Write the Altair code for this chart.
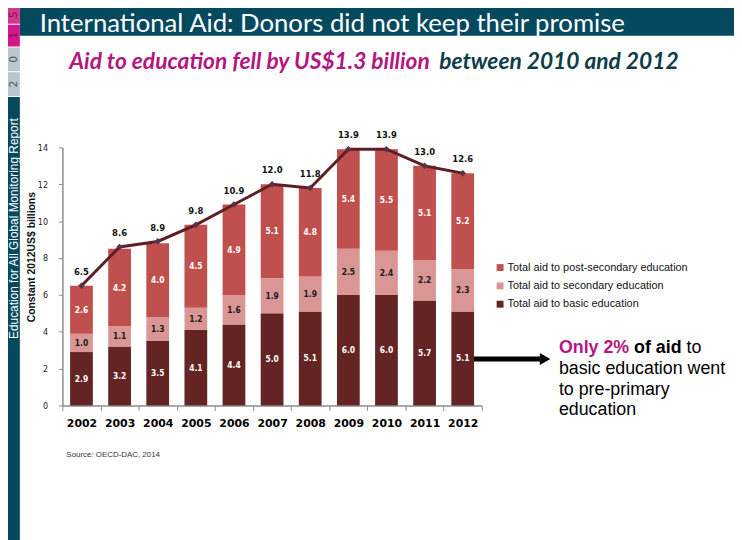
import altair as alt
import pandas as pd

# ---------------- data ----------------
years = ["2002", "2003", "2004", "2005", "2006", "2007", "2008", "2009", "2010", "2011", "2012"]
basic = [2.9, 3.2, 3.5, 4.1, 4.4, 5.0, 5.1, 6.0, 6.0, 5.7, 5.1]
secondary = [1.0, 1.1, 1.3, 1.2, 1.6, 1.9, 1.9, 2.5, 2.4, 2.2, 2.3]
post_secondary = [2.6, 4.2, 4.0, 4.5, 4.9, 5.1, 4.8, 5.4, 5.5, 5.1, 5.2]
totals = [6.5, 8.6, 8.9, 9.8, 10.9, 12.0, 11.8, 13.9, 13.9, 13.0, 12.6]

series_names = [
    "Total aid to post-secondary education",
    "Total aid to secondary education",
    "Total aid to basic education",
]
series_colors = ["#c0504d", "#d99694", "#632423"]
y_ticks = [0, 2, 4, 6, 8, 10, 12, 14]

rows = []
for i, yr in enumerate(years):
    for k, (name, vals) in enumerate(
        [(series_names[2], basic), (series_names[1], secondary), (series_names[0], post_secondary)]
    ):
        rows.append({"year": yr, "series": name, "value": vals[i], "order": k})
bars_df = pd.DataFrame(rows)
tot_df = pd.DataFrame({"year": years, "total": totals})

TEAL = "#05495f"
MAGENTA = "#b3177f"

x_axis = alt.Axis(
    title=None, labelAngle=0, tickBand="extent", tickSize=5, tickColor="#8c8c8c",
    domainColor="#8c8c8c", domainWidth=1.5, labelFont="DejaVu Sans", labelFontWeight="bold",
    labelFontSize=11, labelColor="#000", labelPadding=7,
)
y_axis = alt.Axis(
    values=y_ticks, grid=False, title=None, tickSize=4, tickColor="#8c8c8c",
    domainColor="#8c8c8c", domainWidth=1.5, labelFont="DejaVu Sans Condensed",
    labelFontSize=9, labelColor="#222", labelPadding=11,
)
x_scale = alt.Scale(paddingInner=0, paddingOuter=0)
y_scale = alt.Scale(domain=[0, 14], nice=False)


def X():
    return alt.X("year:N", sort=years, scale=x_scale, axis=x_axis)


bars = alt.Chart(bars_df).mark_bar(size=23).encode(
    x=X(),
    y=alt.Y("value:Q", stack="zero", scale=y_scale, axis=y_axis),
    color=alt.Color(
        "series:N",
        scale=alt.Scale(domain=series_names, range=series_colors),
        legend=alt.Legend(
            title=None, orient="none", legendX=437, legendY=116, symbolType="square",
            symbolSize=49, symbolStrokeWidth=0, labelFont="Liberation Sans", labelFontSize=11,
            labelColor="#111", rowPadding=6.5, labelOffset=2, labelLimit=0,
        ),
    ),
    order=alt.Order("order:Q", sort="ascending"),
)

bar_labels = (
    alt.Chart(bars_df)
    .transform_stack(stack="value", groupby=["year"], as_=["y0", "y1"],
                     sort=[alt.SortField("order", "ascending")])
    .transform_calculate(mid="(datum.y0 + datum.y1) / 2")
    .mark_text(font="DejaVu Sans Condensed", fontWeight="bold", fontSize=8.5, baseline="middle")
    .encode(
        x=X(),
        y=alt.Y("mid:Q", scale=y_scale, axis=y_axis),
        text=alt.Text("value:Q", format=".1f"),
        color=alt.condition(alt.datum.order == 1, alt.value("#1a1a1a"), alt.value("#ffffff")),
    )
)

line = alt.Chart(tot_df).mark_line(color="#5e1f24", strokeWidth=3).encode(
    x=X(), y=alt.Y("total:Q", scale=y_scale, axis=y_axis)
)
pts = alt.Chart(tot_df).mark_point(shape="diamond", filled=True, size=45, color="#5a3247", opacity=1).encode(
    x=X(), y=alt.Y("total:Q", scale=y_scale, axis=y_axis)
)
tot_labels = alt.Chart(tot_df).mark_text(
    dy=-14, font="DejaVu Sans Condensed", fontWeight="bold", fontSize=9.5, color="#111", baseline="middle"
).encode(
    x=X(), y=alt.Y("total:Q", scale=y_scale, axis=y_axis), text=alt.Text("total:Q", format=".1f")
)

one = pd.DataFrame({"k": [0]})


def rect(x1, x2, y1, y2, color):
    return alt.Chart(one).mark_rect(color=color).encode(
        x=alt.value(x1), x2=alt.value(x2), y=alt.value(y1), y2=alt.value(y2)
    )


def label(txt, x, y, **kw):
    return alt.Chart(one).mark_text(**kw).encode(x=alt.value(x), y=alt.value(y), text=alt.value(txt))


# decorations (pixel offsets relative to the plot area origin)
deco = [
    rect(-43, 680, -150, -113, TEAL),                      # title band
    rect(-63, -43, -51, 400, TEAL),                        # sidebar
    rect(-63, -43, -150, -125, "#d5378f"),
    rect(-63, -43, -124, -102, "#d4168a"),
    rect(-63, -43, -101, -77, "#b8c6ce"),
    rect(-63, -43, -76, -52, "#b8c6ce"),
    label("5", -49, -134, angle=270, font="DejaVu Sans", fontSize=11, color="#7d1450", align="center", baseline="middle"),
    label("1", -49, -113, angle=270, font="DejaVu Sans", fontSize=11, color="#7d1450", align="center", baseline="middle"),
    label("0", -49, -89, angle=270, font="DejaVu Sans", fontSize=11, color="#4d5a62", align="center", baseline="middle"),
    label("2", -49, -64, angle=270, font="DejaVu Sans", fontSize=11, color="#4d5a62", align="center", baseline="middle"),
    label("Education for All Global Monitoring Report", -48.5, 82, angle=270, font="Liberation Sans",
          fontSize=12, color="#ffffff", align="center", baseline="middle"),
    label("International Aid: Donors did not keep their promise", -23, -125, font="Lato", fontSize=26,
          color="#ffffff", align="left", baseline="middle"),
    label("Aid to education fell by US$1.3 billion", 7, -86, font="Lato", fontSize=23, fontStyle="italic",
          fontWeight="bold", color=MAGENTA, align="left", baseline="middle"),
    label("between 2010 and 2012", 623, -86, font="Lato", fontSize=23, fontStyle="italic",
          fontWeight="bold", color="#0d3c4a", align="right", baseline="middle"),
    label("Constant 2012US$ billions", -31, 111, angle=270, font="Liberation Sans",
          fontSize=10.5, fontWeight="bold", color="#111", align="center", baseline="middle"),
    label("Source: OECD-DAC, 2014", 4, 311, font="Liberation Sans", fontSize=8, color="#333",
          align="left", baseline="middle"),
    label("Only 2%", 502, 203, font="Liberation Sans", fontSize=18, fontWeight="bold", color=MAGENTA,
          align="left", baseline="middle"),
    label("of aid", 578, 203, font="Liberation Sans", fontSize=18, fontWeight="bold", color="#000",
          align="left", baseline="middle"),
    label("to", 631, 203, font="Liberation Sans", fontSize=18, color="#000", align="left", baseline="middle"),
    label("basic education went", 502, 224, font="Liberation Sans", fontSize=18, color="#000",
          align="left", baseline="middle"),
    label("to pre-primary", 502, 245, font="Liberation Sans", fontSize=18, color="#000",
          align="left", baseline="middle"),
    label("education", 502, 266, font="Liberation Sans", fontSize=18, color="#000",
          align="left", baseline="middle"),
    alt.Chart(one).mark_rule(color="#000", strokeWidth=5).encode(
        x=alt.value(412), x2=alt.value(486), y=alt.value(214)
    ),
    alt.Chart(one).mark_point(shape="triangle-right", filled=True, size=150, color="#000", opacity=1).encode(
        x=alt.value(488), y=alt.value(214)
    ),
]

chart = (
    alt.layer(*deco, bars, bar_labels, line, pts, tot_labels)
    .properties(
        width=424, height=261,
        autosize=alt.AutoSizeParams(type="none"),
        padding={"left": 55, "top": 138, "right": 255, "bottom": 133},
        background="#ffffff",
    )
    .configure_view(stroke=None)
)

chart.save("out.html", embed_options={"renderer": "svg", "actions": False})
